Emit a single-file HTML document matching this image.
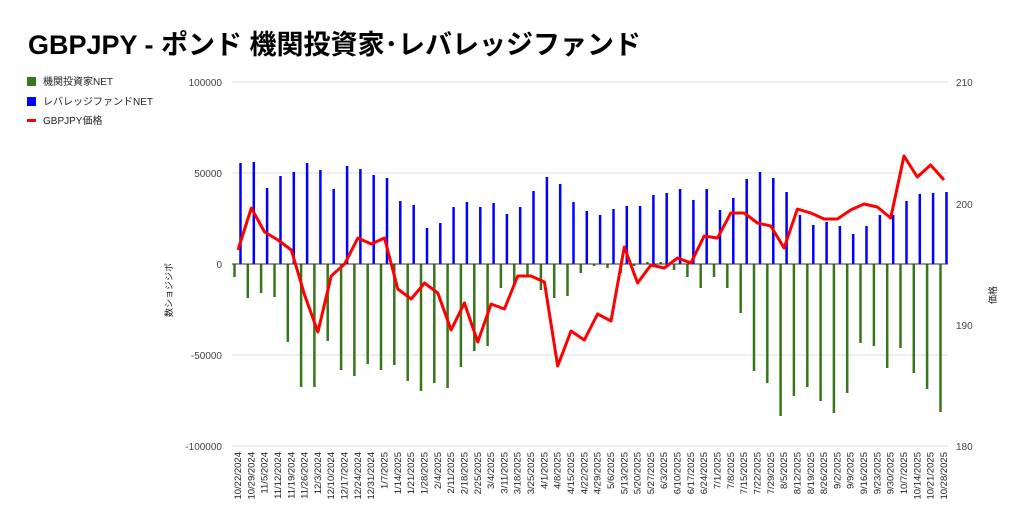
<!DOCTYPE html>
<html><head><meta charset="utf-8"><style>
html,body{margin:0;padding:0;background:#fff;}
svg{display:block;font-family:"Liberation Sans","Noto Sans CJK JP",sans-serif;}
</style></head><body>
<svg width="1024" height="528" viewBox="0 0 1024 528" xmlns="http://www.w3.org/2000/svg">
<rect width="1024" height="528" fill="#fff"/>
<text x="28" y="54" font-size="27" font-weight="bold" fill="#000">GBPJPY - ポンド 機関投資家･レバレッジファンド</text>
<rect x="27" y="77" width="9" height="9" fill="#38761d"/>
<text x="43" y="85" font-size="10" fill="#222">機関投資家NET</text>
<rect x="27" y="97" width="9" height="9" fill="#0000ff"/>
<text x="43" y="105" font-size="10" fill="#222">レバレッジファンドNET</text>
<rect x="27" y="119" width="9" height="3" fill="#ff0000"/>
<text x="43" y="124" font-size="10" fill="#222">GBPJPY価格</text>
<g stroke="#ddd" stroke-width="1">
<line x1="232" y1="82" x2="948" y2="82"/><line x1="232" y1="173" x2="948" y2="173"/>
<line x1="232" y1="355" x2="948" y2="355"/><line x1="232" y1="446" x2="948" y2="446"/>
</g>
<g font-size="10" fill="#444" text-anchor="end">
<text x="222" y="86">100000</text><text x="222" y="177">50000</text><text x="222" y="268">0</text><text x="222" y="359">-50000</text><text x="222" y="450">-100000</text>
</g>
<g font-size="10" fill="#444">
<text x="956" y="86">210</text><text x="956" y="208">200</text><text x="956" y="329">190</text><text x="956" y="450">180</text>
</g>
<text transform="translate(172,290) rotate(-90)" font-size="9" fill="#222" text-anchor="middle">数ショジジポ</text>
<text transform="translate(996,295) rotate(-90)" font-size="9" fill="#222" text-anchor="middle">価格</text>
<g stroke="#38761d" stroke-width="2.5">
<path d="M234.5 264V277M247.8 264V298M261.1 264V293M274.5 264V297M287.8 264V342M301.1 264V387M314.4 264V387M327.7 264V341M341.1 264V370M354.4 264V376M367.7 264V364M381 264V370M394.3 264V365M407.7 264V381M421 264V391M434.3 264V383M447.6 264V388M460.9 264V367M474.3 264V351M487.6 264V346M500.9 264V288M514.2 264V287M527.5 264V277M540.9 264V290M554.2 264V298M567.5 264V296M580.8 264V273M594.1 264V266M607.5 264V268M620.8 264V273M634.1 264V266M647.4 264V262M660.7 264V262M674.1 264V270M687.4 264V277M700.7 264V288M714 264V277M727.3 264V288M740.7 264V313M754 264V371M767.3 264V383M780.6 264V416M793.9 264V396M807.3 264V387M820.6 264V401M833.9 264V413M847.2 264V393M860.5 264V343M873.9 264V346M887.2 264V368M900.5 264V348M913.8 264V373M927.1 264V389M940.5 264V412"/>
</g>
<g stroke="#0000ff" stroke-width="2.5">
<path d="M240.5 264V163M253.8 264V162M267.1 264V188M280.5 264V176M293.8 264V172M307.1 264V163M320.4 264V170M333.7 264V189M347.1 264V166M360.4 264V169M373.7 264V175M387 264V178M400.3 264V201M413.7 264V205M427 264V228M440.3 264V223M453.6 264V207M466.9 264V202M480.3 264V207M493.6 264V203M506.9 264V214M520.2 264V207M533.5 264V191M546.9 264V177M560.2 264V184M573.5 264V202M586.8 264V211M600.1 264V215M613.5 264V209M626.8 264V206M640.1 264V206M653.4 264V195M666.7 264V193M680.1 264V189M693.4 264V200M706.7 264V189M720 264V210M733.3 264V198M746.7 264V179M760 264V172M773.3 264V178M786.6 264V192M799.9 264V215M813.3 264V225M826.6 264V222M839.9 264V226M853.2 264V234M866.5 264V226M879.9 264V215M893.2 264V215M906.5 264V201M919.8 264V194M933.1 264V193M946.5 264V192"/>
</g>
<line x1="232" y1="264" x2="948" y2="264" stroke="#333" stroke-width="1"/>
<polyline fill="none" stroke="#ff0000" stroke-width="3" stroke-linejoin="round" points="238,250 251.3,208 264.6,232 278,240 291.3,250 304.6,295 317.9,332 331.2,276 344.6,264 357.9,238 371.2,244 384.5,238 397.8,289 411.2,299 424.5,283 437.8,293 451.1,330 464.4,303 477.8,342 491.1,304 504.4,309 517.7,276 531,276 544.4,282 557.7,366 571,331 584.3,340 597.6,314 611,321 624.3,247 637.6,283 650.9,265 664.2,268 677.6,258 690.9,263 704.2,236 717.5,238 730.8,213 744.2,213 757.5,223 770.8,226 784.1,248 797.4,209 810.8,213 824.1,219 837.4,219 850.7,210 864,204 877.4,207 890.7,218 904,156 917.3,177 930.6,165 944,180"/>
<g font-size="9.5" fill="#222" text-anchor="end">
<text transform="translate(241,452) rotate(-90)">10/22/2024</text>
<text transform="translate(254.3,452) rotate(-90)">10/29/2024</text>
<text transform="translate(267.6,452) rotate(-90)">11/5/2024</text>
<text transform="translate(281,452) rotate(-90)">11/12/2024</text>
<text transform="translate(294.3,452) rotate(-90)">11/19/2024</text>
<text transform="translate(307.6,452) rotate(-90)">11/26/2024</text>
<text transform="translate(320.9,452) rotate(-90)">12/3/2024</text>
<text transform="translate(334.2,452) rotate(-90)">12/10/2024</text>
<text transform="translate(347.6,452) rotate(-90)">12/17/2024</text>
<text transform="translate(360.9,452) rotate(-90)">12/24/2024</text>
<text transform="translate(374.2,452) rotate(-90)">12/31/2024</text>
<text transform="translate(387.5,452) rotate(-90)">1/7/2025</text>
<text transform="translate(400.8,452) rotate(-90)">1/14/2025</text>
<text transform="translate(414.2,452) rotate(-90)">1/21/2025</text>
<text transform="translate(427.5,452) rotate(-90)">1/28/2025</text>
<text transform="translate(440.8,452) rotate(-90)">2/4/2025</text>
<text transform="translate(454.1,452) rotate(-90)">2/11/2025</text>
<text transform="translate(467.4,452) rotate(-90)">2/18/2025</text>
<text transform="translate(480.8,452) rotate(-90)">2/25/2025</text>
<text transform="translate(494.1,452) rotate(-90)">3/4/2025</text>
<text transform="translate(507.4,452) rotate(-90)">3/11/2025</text>
<text transform="translate(520.7,452) rotate(-90)">3/18/2025</text>
<text transform="translate(534,452) rotate(-90)">3/25/2025</text>
<text transform="translate(547.4,452) rotate(-90)">4/1/2025</text>
<text transform="translate(560.7,452) rotate(-90)">4/8/2025</text>
<text transform="translate(574,452) rotate(-90)">4/15/2025</text>
<text transform="translate(587.3,452) rotate(-90)">4/22/2025</text>
<text transform="translate(600.6,452) rotate(-90)">4/29/2025</text>
<text transform="translate(614,452) rotate(-90)">5/6/2025</text>
<text transform="translate(627.3,452) rotate(-90)">5/13/2025</text>
<text transform="translate(640.6,452) rotate(-90)">5/20/2025</text>
<text transform="translate(653.9,452) rotate(-90)">5/27/2025</text>
<text transform="translate(667.2,452) rotate(-90)">6/3/2025</text>
<text transform="translate(680.6,452) rotate(-90)">6/10/2025</text>
<text transform="translate(693.9,452) rotate(-90)">6/17/2025</text>
<text transform="translate(707.2,452) rotate(-90)">6/24/2025</text>
<text transform="translate(720.5,452) rotate(-90)">7/1/2025</text>
<text transform="translate(733.8,452) rotate(-90)">7/8/2025</text>
<text transform="translate(747.2,452) rotate(-90)">7/15/2025</text>
<text transform="translate(760.5,452) rotate(-90)">7/22/2025</text>
<text transform="translate(773.8,452) rotate(-90)">7/29/2025</text>
<text transform="translate(787.1,452) rotate(-90)">8/5/2025</text>
<text transform="translate(800.4,452) rotate(-90)">8/12/2025</text>
<text transform="translate(813.8,452) rotate(-90)">8/19/2025</text>
<text transform="translate(827.1,452) rotate(-90)">8/26/2025</text>
<text transform="translate(840.4,452) rotate(-90)">9/2/2025</text>
<text transform="translate(853.7,452) rotate(-90)">9/9/2025</text>
<text transform="translate(867,452) rotate(-90)">9/16/2025</text>
<text transform="translate(880.4,452) rotate(-90)">9/23/2025</text>
<text transform="translate(893.7,452) rotate(-90)">9/30/2025</text>
<text transform="translate(907,452) rotate(-90)">10/7/2025</text>
<text transform="translate(920.3,452) rotate(-90)">10/14/2025</text>
<text transform="translate(933.6,452) rotate(-90)">10/21/2025</text>
<text transform="translate(947,452) rotate(-90)">10/28/2025</text>
</g>
</svg>
</body></html>
